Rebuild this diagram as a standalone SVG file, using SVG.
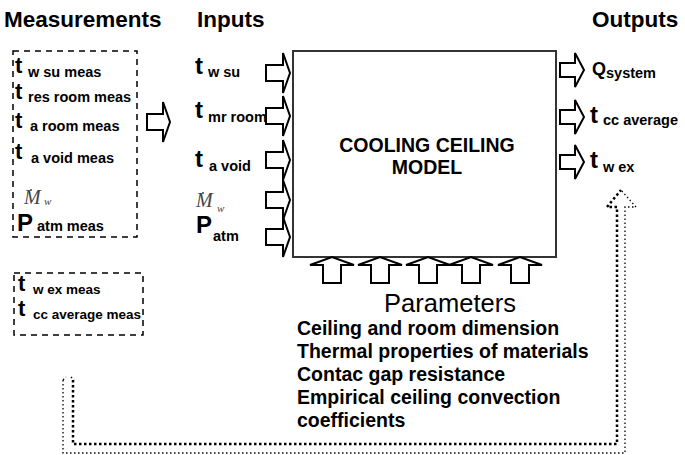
<svg xmlns="http://www.w3.org/2000/svg" width="685" height="455" viewBox="0 0 685 455">
<style>
text{font-family:"Liberation Sans",Arial,sans-serif;fill:#000}
.h{font-size:22.5px;font-weight:bold}
.t{font-size:24px;font-weight:bold}
.tm{font-size:22px;font-weight:bold}
.s{font-size:14.5px;font-weight:bold}
.s2{font-size:13.5px;font-weight:bold}
.m{font-family:"Liberation Serif","Times New Roman",serif;font-style:italic;fill:#444}
.dot{fill:#444}
.arr{fill:#fff;stroke:#000;stroke-width:2;stroke-linejoin:miter}
.dash{fill:none;stroke:#000;stroke-width:1.5;stroke-dasharray:6 5}
.dotA{fill:none;stroke:#000;stroke-width:2.5;stroke-dasharray:2.5 2.5}
.dotB{fill:none;stroke:#000;stroke-width:1.3;stroke-dasharray:1.5 2.5}
.p{font-size:19.5px;font-weight:bold}
</style>

<g id="headers">
<text class="h" x="4" y="27">Measurements</text>
<text class="h" x="197" y="27">Inputs</text>
<text class="h" x="592" y="27">Outputs</text>
</g>

<g id="measurements">
<rect class="dash" x="13" y="51" width="124" height="186"/>
<text class="tm" x="15" y="73">t</text><text class="s" x="28" y="77">w su meas</text>
<text class="tm" x="15" y="99">t</text><text class="s" x="28" y="102">res room meas</text>
<text class="tm" x="15" y="128">t</text><text class="s" x="30" y="131">a room meas</text>
<text class="tm" x="15" y="159">t</text><text class="s" x="31" y="163">a void meas</text>
<text class="m" x="24" y="204" font-size="20">M</text><circle class="dot" cx="31" cy="190" r="1"/><text class="m" x="44" y="205" font-size="11">w</text>
<text class="t" x="17" y="231">P</text><text class="s" x="37" y="231">atm meas</text>
</g>

<g id="measurements2">
<rect class="dash" x="14" y="273" width="129" height="62"/>
<text class="tm" x="18" y="291">t</text><text class="s2" x="33" y="294">w ex meas</text>
<text class="tm" x="18" y="316">t</text><text class="s2" x="33" y="319">cc average meas</text>
</g>

<g id="inputs">
<text class="t" x="195" y="74">t</text><text class="s" x="208" y="77">w su</text>
<text class="t" x="195" y="118">t</text><text class="s" x="208" y="122" font-size="14">mr room</text>
<text class="t" x="195" y="167">t</text><text class="s" x="209" y="171">a void</text>
<text class="m" x="196" y="207" font-size="20">M</text><circle class="dot" cx="203" cy="193" r="1"/><text class="m" x="217" y="212" font-size="11">w</text>
<text class="t" x="196" y="233">P</text><text class="s" x="213" y="241">atm</text>
</g>

<g id="model">
<rect x="293" y="51" width="263" height="206" fill="#fff" stroke="#333" stroke-width="2"/>
<text x="427" y="152" text-anchor="middle" font-size="19.5" font-weight="bold">COOLING CEILING</text>
<text x="427" y="174" text-anchor="middle" font-size="19.5" font-weight="bold">MODEL</text>
</g>

<g id="outputs">
<text x="592" y="75" font-size="18" font-weight="bold">Q</text><text class="s" x="606" y="78" font-size="14">system</text>
<text class="t" x="590" y="123" font-size="22">t</text><text class="s" x="603" y="125" font-size="14">cc average</text>
<text class="t" x="590" y="168" font-size="22">t</text><text class="s" x="603" y="172" font-size="14">w ex</text>
</g>

<g id="parameters">
<text x="450" y="312" text-anchor="middle" font-size="25.5">Parameters</text>
<text class="p" x="297" y="335">Ceiling and room dimension</text>
<text class="p" x="297" y="358">Thermal properties of materials</text>
<text class="p" x="297" y="381">Contac gap resistance</text>
<text class="p" x="297" y="404">Empirical ceiling convection</text>
<text class="p" x="297" y="427">coefficients</text>
</g>

<g id="connectors">
<polygon class="arr" points="147,114 163,114 163,102 170,122 163,142 163,130 147,130"/>
<polygon class="arr" points="266,65 283,65 283,53 290,73 283,93 283,81 266,81"/>
<polygon class="arr" points="266,108 283,108 283,96 290,116 283,136 283,124 266,124"/>
<polygon class="arr" points="266,152 283,152 283,140 290,160 283,180 283,168 266,168"/>
<polygon class="arr" points="266,192 283,192 283,180 290,200 283,220 283,208 266,208"/>
<polygon class="arr" points="266,229 283,229 283,217 290,237 283,257 283,245 266,245"/>
<polygon class="arr" points="323,283 323,265 310,265 332,257 354,265 341,265 341,283"/>
<polygon class="arr" points="371,283 371,265 358,265 380,257 402,265 389,265 389,283"/>
<polygon class="arr" points="419,283 419,265 406,265 428,257 450,265 437,265 437,283"/>
<polygon class="arr" points="462,283 462,265 449,265 471,257 493,265 480,265 480,283"/>
<polygon class="arr" points="511,283 511,265 498,265 520,257 542,265 529,265 529,283"/>
<polygon class="arr" points="560,63 575,63 575,53 584,70 575,87 575,77 560,77"/>
<polygon class="arr" points="560,110 575,110 575,100 584,117 575,134 575,124 560,124"/>
<polygon class="arr" points="560,155 575,155 575,145 584,162 575,179 575,169 560,169"/>
<path class="dotA" d="M73,380 L73,444 L617,444 L617,207 L607,207 L621,190"/>
<path class="dotB" d="M63,380 L63,453 L625,453 L625,207 L636,207 L621,190"/>
<path class="dotB" d="M63,380 L66,377 M71,377 L74,380"/>
</g>
</svg>
